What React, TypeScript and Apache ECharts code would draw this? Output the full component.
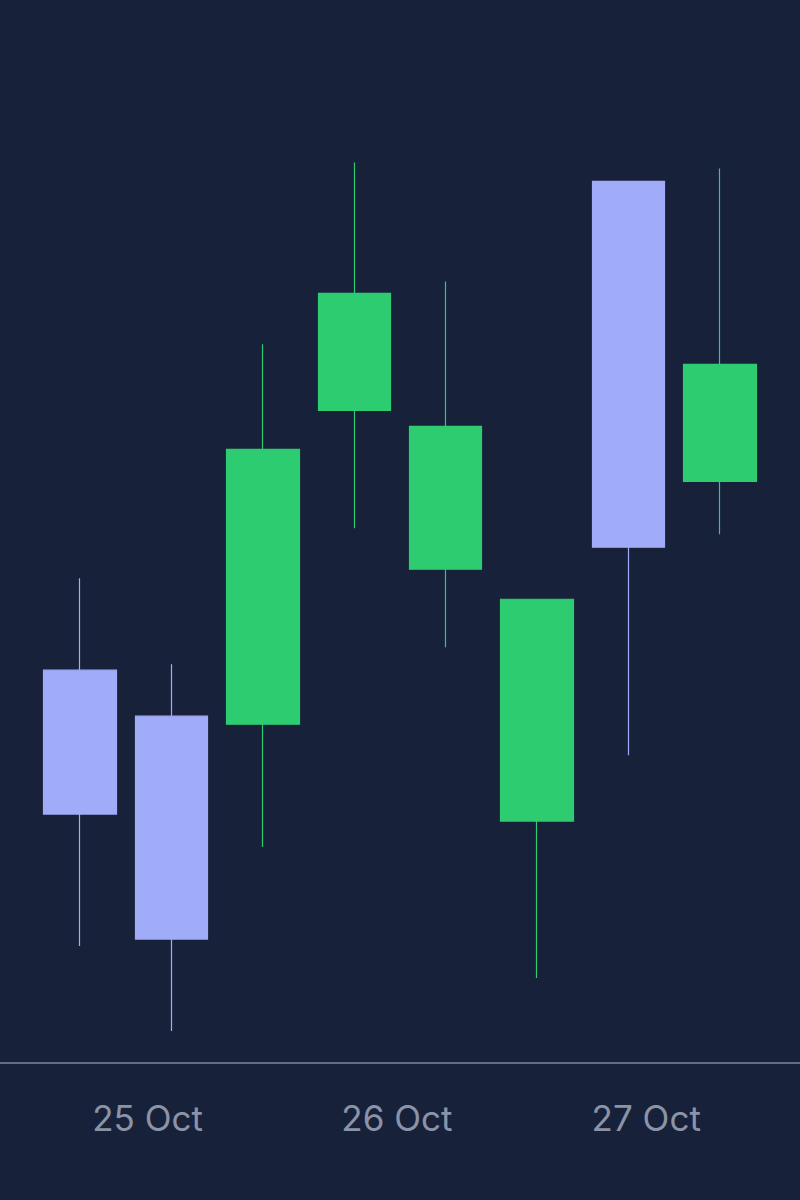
import * as React from "react";
import * as echarts from "echarts";

// Candle times (local), read from where each candle sits between the day labels.
const TIMES = [
  "2024-10-24T17:30",
  "2024-10-25T02:18",
  "2024-10-25T11:06",
  "2024-10-25T19:54",
  "2024-10-26T04:42",
  "2024-10-26T13:30",
  "2024-10-26T22:18",
  "2024-10-27T07:06",
];
const OPEN = [139.3, 134.7, 133.9, 165.3, 149.4, 124.2, 188.2, 158.2];
const CLOSE = [124.9, 112.4, 161.4, 177.0, 163.7, 146.4, 151.6, 169.9];
const LOW = [111.7, 103.2, 121.6, 153.5, 141.6, 108.5, 130.8, 152.9];
const HIGH = [148.5, 139.9, 171.9, 190.1, 178.2, 146.4, 188.2, 189.5];

const X_MIN = "2024-10-24T09:48";
const X_MAX = "2024-10-27T14:48";
const MONTHS = ["Jan", "Feb", "Mar", "Apr", "May", "Jun", "Jul", "Aug", "Sep", "Oct", "Nov", "Dec"];

const BG = "#18213a";
const UP = "#2ecc71";
const DOWN = "#a0acf7";

export default function App() {
  const ref = React.useRef<HTMLDivElement | null>(null);

  React.useEffect(() => {
    document.body.style.margin = "0";
    document.body.style.background = BG;
    if (!ref.current) return;
    const chart = echarts.init(ref.current, undefined, { renderer: "svg" });
    chart.setOption({
      animation: false,
      backgroundColor: BG,
      grid: { left: 0, right: 0, top: 63.5, bottom: 137 },
      xAxis: {
        type: "time",
        min: new Date(X_MIN).getTime(),
        max: new Date(X_MAX).getTime(),
        minInterval: 24 * 3600 * 1000,
        maxInterval: 24 * 3600 * 1000,
        axisLine: { show: true, lineStyle: { color: "#7d8799", width: 1.5 } },
        axisTick: { show: false },
        splitLine: { show: false },
        axisLabel: {
          color: "#8b93a6",
          fontFamily: "Inter",
          fontSize: 35,
          margin: 37,
          hideOverlap: false,
          formatter: (v: number) => {
            const d = new Date(v);
            return `${d.getDate()} ${MONTHS[d.getMonth()]}`;
          },
        },
      },
      yAxis: { type: "value", min: 100, max: 200, show: false },
      series: [
        {
          type: "candlestick",
          barWidth: 73,
          itemStyle: {
            color: UP,
            color0: DOWN,
            borderColor: UP,
            borderColor0: DOWN,
            borderWidth: 1.2,
          },
          data: TIMES.map((t, i) => [new Date(t).getTime(), OPEN[i], CLOSE[i], LOW[i], HIGH[i]]),
        },
      ],
    });
    return () => chart.dispose();
  }, []);

  return <div ref={ref} style={{ width: 800, height: 1200, background: BG }} />;
}
